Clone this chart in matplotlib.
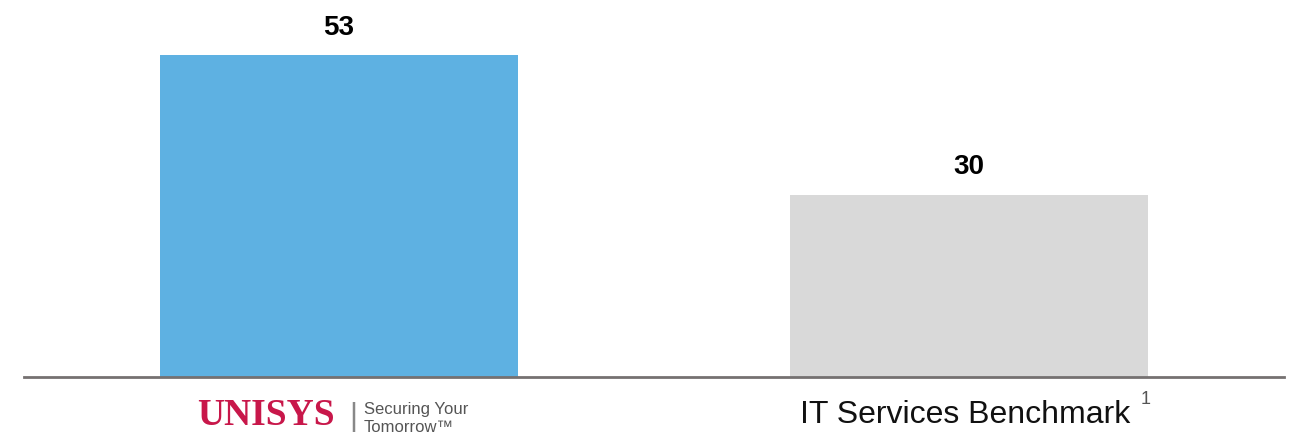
import matplotlib.pyplot as plt
from matplotlib.transforms import blended_transform_factory

categories = ['Unisys', 'IT Services Benchmark']
values = [53, 30]
colors = ['#5EB1E2', '#D9D9D9']

fig = plt.figure(figsize=(12.94, 4.4), dpi=100)
ax = fig.add_axes([0.0185, 0.1432, 0.9737, 0.857])

x = range(len(categories))
bars = ax.bar(x, values, width=0.567, color=colors)
ax.set_xlim(-0.5, 1.5)
ax.set_ylim(0, 62.1)

for b, v in zip(bars, values):
    ax.text(b.get_x() + b.get_width() / 2, v + 2.4, str(v), ha='center', va='bottom',
            fontsize=20, fontweight='bold', family='Liberation Sans')

for s in ['top', 'right', 'left']:
    ax.spines[s].set_visible(False)
ax.spines['bottom'].set_color('#757171')
ax.spines['bottom'].set_linewidth(2)
ax.set_xticks([])
ax.set_yticks([])

tr = blended_transform_factory(ax.transData, fig.transFigure)
# benchmark label
ax.text(0.994, 1 - 415 / 440, categories[1], transform=tr, ha='center', va='center',
        fontsize=23, family='Liberation Sans', color='#111111')
fig.text(1146 / 1294, 1 - 399 / 440, '1', ha='center', va='center',
         fontsize=13, family='Liberation Sans', color='#555555')

# Unisys logo, drawn as text
fig.text(197 / 1294, 1 - 415 / 440, 'UNISYS', ha='left', va='center',
         fontsize=27, fontweight='bold', family='Liberation Serif', color='#C8174A')
fig.text(353 / 1294, 1 - 417 / 440, '|', ha='center', va='center',
         fontsize=22, family='Liberation Sans', color='#888888')
fig.text(364 / 1294, 1 - 409 / 440, 'Securing Your', ha='left', va='center',
         fontsize=12, family=['Liberation Sans Narrow', 'Liberation Sans'], color='#555555')
fig.text(364 / 1294, 1 - 427 / 440, 'Tomorrow\u2122', ha='left', va='center',
         fontsize=12, family=['Liberation Sans Narrow', 'Liberation Sans'], color='#555555')

fig.savefig('out.png', dpi=100)
